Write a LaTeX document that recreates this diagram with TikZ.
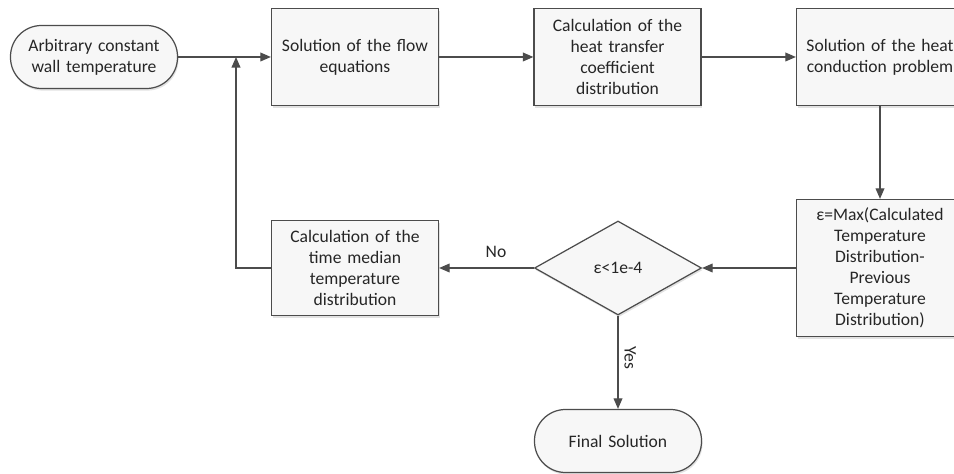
\documentclass[tikz,border=0pt]{standalone}
\usepackage{fontspec}
\setmainfont{Carlito}
\usetikzlibrary{shapes.geometric,arrows.meta,shadows}

\tikzset{
  box/.style={draw=black!70, fill=gray!6, line width=0.7pt, align=center,
    minimum width=3.34cm, minimum height=1.94cm, text width=3.1cm, inner sep=2pt,
    drop shadow={shadow xshift=0.6pt, shadow yshift=-1.2pt, fill=gray!45}},
  term/.style={box, rounded corners=0.62cm, minimum height=1.26cm},
  decide/.style={diamond, draw=black!70, fill=gray!6, line width=0.7pt, align=center,
    minimum width=3.34cm, minimum height=1.88cm, aspect=1.78, inner sep=0pt,
    drop shadow={shadow xshift=0.6pt, shadow yshift=-1.2pt, fill=gray!45}},
  arr/.style={draw=black!70, line width=0.7pt, -{Triangle[length=6pt, width=5pt]}},
}

\begin{document}
\begin{tikzpicture}[font=\fontsize{10}{12}\selectfont, text=black!85]

        \useasboundingbox (0,0) rectangle (19.08,-9.48);

        % Riga superiore
        \node[term] (start) at (1.88,-1.14) {Arbitrary constant\\wall temperature};
        \node[box] (flow) at (7.1,-1.14) {Solution of the flow\\equations};
        \node[box] (htc) at (12.35,-1.14) {Calculation of the\\heat transfer\\coefficient\\distribution};
        \node[box] (cond) at (17.6,-1.14) {Solution of the heat\\conduction problem};

        % Riga inferiore
        \node[box, minimum height=2.74cm] (eps) at (17.6,-5.36) {ε=Max(Calculated\\Temperature\\Distribution-\\Previous\\Temperature\\Distribution)};
        \node[decide] (check) at (12.36,-5.36) {ε<1e-4};
        \node[box, minimum height=1.9cm] (median) at (7.1,-5.36) {Calculation of the\\time median\\temperature\\distribution};
        \node[term] (final) at (12.36,-8.82) {Final Solution};

        % Nodo di ritorno
        \coordinate (back) at (4.72,-1.14);

        % Frecce
        \draw[arr] (start) -- (flow);
        \draw[arr] (flow) -- (htc);
        \draw[arr] (htc) -- (cond);
        \draw[arr] (cond) -- (eps);
        \draw[arr] (eps) -- (check);
        \draw[arr] (check) -- node[above, pos=0.4, yshift=2pt] (no) {No} (median);
        \draw[arr] (median.west) -| (back);
        \draw[arr] (check) -- node[right, rotate=-90, anchor=south, pos=0.45] (yes) {Yes} (final);

\end{tikzpicture}
\end{document}
